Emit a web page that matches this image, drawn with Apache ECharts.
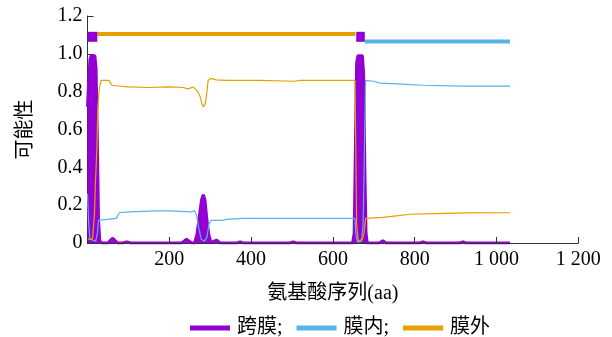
<!DOCTYPE html>
<html>
<head>
<meta charset="utf-8">
<script src="https://cdn.jsdelivr.net/npm/echarts@6/dist/echarts.min.js"></script>
<style>html,body{margin:0;padding:0;background:#fff;}#c{width:612px;height:337px;}</style>
</head>
<body>
<div id="c"></div>
<script>
// Transmembrane probability (purple)
var tmX = [0, 3, 6, 9, 18, 21, 24, 27, 30, 36, 50, 56, 62, 68, 74, 86, 96, 106, 130, 230, 236, 242, 248, 256, 262, 268, 274, 279, 283, 287, 292, 297, 302, 308, 316, 324, 340, 365, 373, 381, 400, 495, 503, 511, 600, 648, 652, 655, 658, 661, 672, 675, 678, 681, 684, 700, 714, 722, 730, 760, 812, 820, 828, 900, 910, 918, 926, 1033];
var tmY = [0.72, 0.86, 0.97, 0.99, 0.99, 0.92, 0.55, 0.12, 0.01, 0, 0, 0.015, 0.025, 0.012, 0, 0, 0.006, 0, 0, 0, 0.01, 0.02, 0.01, 0, 0, 0.05, 0.15, 0.23, 0.255, 0.23, 0.12, 0.04, 0, 0.008, 0.015, 0, 0, 0, 0.006, 0, 0, 0, 0.005, 0, 0, 0, 0.05, 0.5, 0.95, 0.99, 0.99, 0.9, 0.4, 0.05, 0, 0, 0, 0.012, 0, 0, 0, 0.005, 0, 0, 0, 0.005, 0, 0];

// Inside probability (blue)
var inX = [0, 3, 6, 10, 20, 24, 27, 30, 70, 78, 100, 170, 200, 255, 262, 266, 272, 278, 286, 292, 297, 302, 330, 340, 380, 654, 656, 660, 670, 674, 677, 680, 700, 715, 770, 820, 915, 1033];
var inY = [0.26, 0.1, 0.02, 0.01, 0.01, 0.05, 0.12, 0.13, 0.13, 0.16, 0.165, 0.17, 0.17, 0.165, 0.17, 0.15, 0.08, 0.02, 0.01, 0.03, 0.1, 0.12, 0.12, 0.125, 0.13, 0.13, 0.05, 0.005, 0.01, 0.1, 0.5, 0.86, 0.855, 0.845, 0.84, 0.834, 0.829, 0.829];

// Outside probability (orange)
var outX = [0, 12, 17, 19, 23, 25, 28, 33, 53, 59, 75, 100, 150, 200, 234, 246, 258, 270, 276, 280, 283, 288, 292, 295, 301, 315, 340, 420, 507, 520, 654, 656, 658, 662, 672, 676, 680, 722, 725, 760, 789, 850, 927, 1033];
var outY = [0.02, 0.02, 0.15, 0.3, 0.5, 0.7, 0.8, 0.86, 0.86, 0.834, 0.83, 0.825, 0.822, 0.825, 0.822, 0.815, 0.825, 0.8, 0.77, 0.735, 0.72, 0.735, 0.8, 0.86, 0.87, 0.862, 0.86, 0.86, 0.855, 0.86, 0.86, 0.5, 0.1, 0.01, 0.02, 0.05, 0.13, 0.135, 0.14, 0.145, 0.152, 0.155, 0.159, 0.16];

// Predicted topology bands (top of chart)
var tmBands = [[0, 24], [657, 678]];
var tmBandLevel = 1.09;
var outBands = [[24, 655]];
var outBandLevel = 1.105;
var inBands = [[678, 1033]];
var inBandLevel = 1.065;

var xTicks = [0, 200, 400, 600, 800, 1000, 1200];
var seriesNames = ['跨膜;', '膜内;', '膜外'];

var PURPLE = '#9400d3', BLUE = '#56b4e9', ORANGE = '#e69f00';
function zip(a, b) { return a.map(function (v, i) { return [v, b[i]]; }); }
function fmtX(v) {
  if (v === 0) return '';
  var s = String(v);
  return s.length > 3 ? s.slice(0, s.length - 3) + ' ' + s.slice(-3) : s;
}
var serif = 'Liberation Serif, "Noto Sans CJK SC", serif';

var series = [
  { name: seriesNames[0], type: 'line', data: zip(tmX, tmY), showSymbol: false, z: 2,
    lineStyle: { color: PURPLE, width: 3 }, itemStyle: { color: PURPLE },
    areaStyle: { color: PURPLE, opacity: 1 } },
  { name: seriesNames[1], type: 'line', data: zip(inX, inY), showSymbol: false, z: 3,
    lineStyle: { color: BLUE, width: 1.2 }, itemStyle: { color: BLUE } },
  { name: seriesNames[2], type: 'line', data: zip(outX, outY), showSymbol: false, z: 3,
    lineStyle: { color: ORANGE, width: 1.2 }, itemStyle: { color: ORANGE } }
];
function addBands(bands, level, color, width, tag) {
  bands.forEach(function (b, i) {
    series.push({ name: tag + i, type: 'line', data: [[b[0], level], [b[1], level]], showSymbol: false, z: 4,
      lineStyle: { color: color, width: width, cap: 'butt' }, itemStyle: { color: color } });
  });
}
addBands(outBands, outBandLevel, ORANGE, 4, 'outBand');
addBands(inBands, inBandLevel, BLUE, 4, 'inBand');
addBands(tmBands, tmBandLevel, PURPLE, 10, 'tmBand');

var chart = echarts.init(document.getElementById('c'), null, { renderer: 'canvas' });
chart.setOption({
  animation: false,
  backgroundColor: '#fff',
  grid: { left: 87.5, right: 33.7, top: 16, bottom: 94, containLabel: false },
  xAxis: {
    type: 'value', min: xTicks[0], max: xTicks[xTicks.length - 1], interval: 200, z: 6,
    name: '氨基酸序列(aa)', nameLocation: 'middle', nameGap: 41,
    nameTextStyle: { fontFamily: serif, fontSize: 20, color: '#000' },
    axisLine: { show: true, lineStyle: { color: '#333', width: 1 } },
    axisTick: { show: true, inside: true, length: 6, lineStyle: { color: '#333' } },
    axisLabel: { formatter: fmtX, fontFamily: serif, fontSize: 20, color: '#000', margin: 7 },
    splitLine: { show: false }
  },
  yAxis: {
    type: 'value', min: 0, max: 1.2, interval: 0.2,
    name: '可能性', nameLocation: 'middle', nameGap: 52, nameRotate: 90,
    nameTextStyle: { fontFamily: serif, fontSize: 20, color: '#000' },
    axisLine: { show: true, lineStyle: { color: '#333', width: 1 } },
    axisTick: { show: true, inside: true, length: 6, lineStyle: { color: '#333' } },
    axisLabel: { formatter: function (v) { return v === 0 ? '0' : v.toFixed(1); },
      fontFamily: serif, fontSize: 20, color: '#000', margin: 5 },
    splitLine: { show: false }
  },
  legend: {
    data: seriesNames, left: 185, top: 313, icon: 'rect', itemWidth: 40, itemHeight: 5, itemGap: 14,
    textStyle: { fontFamily: serif, fontSize: 20, color: '#000', padding: [0, 0, 0, 2] }
  },
  series: series
});
</script>
</body>
</html>
